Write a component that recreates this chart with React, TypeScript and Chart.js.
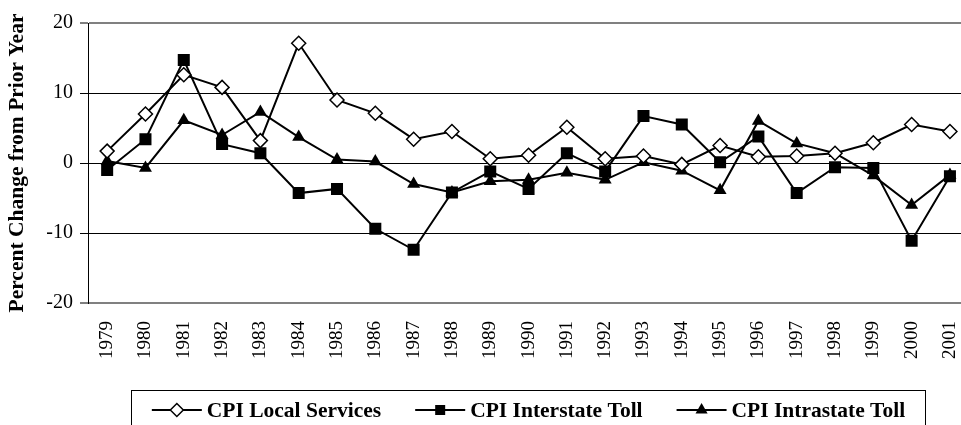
import React, { useEffect, useRef } from 'react';
import { Chart, registerables } from 'chart.js';

Chart.register(...registerables);

const years = ['1979', '1980', '1981', '1982', '1983', '1984', '1985', '1986', '1987', '1988', '1989', '1990', '1991', '1992', '1993', '1994', '1995', '1996', '1997', '1998', '1999', '2000', '2001'];
const localServices = [1.7, 7.0, 12.6, 10.8, 3.2, 17.1, 9.0, 7.1, 3.4, 4.5, 0.6, 1.1, 5.1, 0.6, 1.0, -0.2, 2.5, 0.9, 1.0, 1.4, 2.9, 5.5, 4.5];
const interstateToll = [-1.0, 3.4, 14.7, 2.7, 1.4, -4.3, -3.7, -9.4, -12.4, -4.2, -1.2, -3.7, 1.4, -1.2, 6.7, 5.5, 0.1, 3.8, -4.3, -0.6, -0.7, -11.1, -1.9];
const intrastateToll = [0.3, -0.7, 6.1, 4.0, 7.3, 3.7, 0.5, 0.2, -3.0, -4.2, -2.6, -2.4, -1.4, -2.4, 0.1, -1.1, -3.9, 6.0, 2.8, 1.4, -1.8, -6.0, -1.7];
const yMin = -20;
const yMax = 20;
const yStep = 10;
const seriesLabels = ['CPI Local Services', 'CPI Interstate Toll', 'CPI Intrastate Toll'];
const yTitle = 'Percent Change from Prior Year';

const SERIF = '"Liberation Serif", "Times New Roman", serif';

function drawMarker(ctx: CanvasRenderingContext2D, kind: string, x: number, y: number) {
  ctx.save();
  ctx.lineWidth = 1.5;
  ctx.strokeStyle = '#000';
  ctx.fillStyle = '#000';
  ctx.beginPath();
  if (kind === 'rectRot') {
    const r = 6.5;
    ctx.moveTo(x, y - r);
    ctx.lineTo(x + r, y);
    ctx.lineTo(x, y + r);
    ctx.lineTo(x - r, y);
    ctx.closePath();
    ctx.fillStyle = '#fff';
    ctx.fill();
    ctx.stroke();
  } else if (kind === 'rect') {
    const h = 5;
    ctx.rect(x - h, y - h, 2 * h, 2 * h);
    ctx.fill();
  } else {
    const r = 7;
    ctx.moveTo(x, y - r);
    ctx.lineTo(x + r * 0.866, y + r / 2);
    ctx.lineTo(x - r * 0.866, y + r / 2);
    ctx.closePath();
    ctx.fill();
  }
  ctx.restore();
}

const boxLegend = {
  id: 'boxLegend',
  afterDraw(chart: any) {
    const ctx: CanvasRenderingContext2D = chart.ctx;
    const left = 131.5, right = 925.5, top = 390.5, bottom = 436;
    ctx.save();
    ctx.strokeStyle = '#000';
    ctx.lineWidth = 1;
    ctx.strokeRect(left, top, right - left, bottom - top);
    ctx.font = `bold 21.5px ${SERIF}`;
    ctx.textBaseline = 'middle';
    ctx.textAlign = 'left';
    ctx.fillStyle = '#000';
    const lineW = 50, gapText = 5, gapItem = 34;
    const ds = chart.data.datasets;
    const widths = ds.map((d: any) => ctx.measureText(d.label).width);
    let total = 0;
    widths.forEach((w: number, i: number) => {
      total += lineW + gapText + w + (i > 0 ? gapItem : 0);
    });
    let x = (left + right) / 2 - total / 2;
    const y = 410;
    ds.forEach((d: any, i: number) => {
      ctx.beginPath();
      ctx.lineWidth = 2;
      ctx.strokeStyle = '#000';
      ctx.moveTo(x, y);
      ctx.lineTo(x + lineW, y);
      ctx.stroke();
      drawMarker(ctx, d.pointStyle, x + lineW / 2, y);
      ctx.fillStyle = '#000';
      ctx.fillText(d.label, x + lineW + gapText, y + 1);
      x += lineW + gapText + widths[i] + gapItem;
    });
    ctx.restore();
  },
};

export default function App() {
  const ref = useRef<HTMLCanvasElement | null>(null);

  useEffect(() => {
    if (!ref.current) return;
    const chart = new Chart(ref.current, {
      type: 'line',
      data: {
        labels: years,
        datasets: [
          {
            label: seriesLabels[0],
            data: localServices,
            borderColor: '#000',
            borderWidth: 2,
            pointStyle: 'rectRot',
            pointRadius: 7,
            pointBackgroundColor: '#fff',
            pointBorderColor: '#000',
            pointBorderWidth: 1.5,
            tension: 0,
          },
          {
            label: seriesLabels[1],
            data: interstateToll,
            borderColor: '#000',
            borderWidth: 2,
            pointStyle: 'rect',
            pointRadius: 8.5,
            pointBackgroundColor: '#000',
            pointBorderColor: '#000',
            pointBorderWidth: 0,
            tension: 0,
          },
          {
            label: seriesLabels[2],
            data: intrastateToll,
            borderColor: '#000',
            borderWidth: 2,
            pointStyle: 'triangle',
            pointRadius: 7.5,
            pointBackgroundColor: '#000',
            pointBorderColor: '#000',
            pointBorderWidth: 0,
            tension: 0,
          },
        ],
      },
      options: {
        animation: false,
        responsive: false,
        maintainAspectRatio: false,
        layout: { padding: { left: 0, top: 23, right: 12, bottom: 80 } },
        plugins: {
          legend: { display: false },
          tooltip: { enabled: false },
        },
        scales: {
          x: {
            type: 'category',
            offset: true,
            grid: { display: false, drawTicks: false },
            border: { display: false },
            ticks: {
              autoSkip: false,
              minRotation: 90,
              maxRotation: 90,
              padding: 18,
              color: '#000',
              font: { family: SERIF, size: 19 },
            },
            afterFit: (s: any) => {
              s.height = 57;
            },
          },
          y: {
            min: yMin,
            max: yMax,
            ticks: {
              stepSize: yStep,
              padding: 7,
              color: '#000',
              font: { family: SERIF, size: 20 },
            },
            grid: {
              color: (c: any) => (c.tick && (c.tick.value === yMin || c.tick.value === yMax) ? '#808080' : '#000'),
              lineWidth: (c: any) => (c.tick && (c.tick.value === yMin || c.tick.value === yMax) ? 2 : 1),
              tickColor: '#000',
              tickWidth: 1,
              tickLength: 8,
            },
            border: { display: true, color: '#000', width: 1 },
            title: {
              display: true,
              text: yTitle,
              color: '#000',
              font: { family: SERIF, size: 21.5, weight: 'bold' },
              padding: { top: 5, bottom: 0 },
            },
            afterFit: (s: any) => {
              s.width = 88;
            },
          },
        },
      },
      plugins: [boxLegend],
    });
    return () => chart.destroy();
  }, []);

  return (
    <div style={{ position: 'fixed', left: 0, top: 0, width: 961, height: 425, overflow: 'hidden', background: '#fff' }}>
      <canvas ref={ref} width={991} height={440} style={{ display: 'block', width: 991, height: 440 }} />
    </div>
  );
}
